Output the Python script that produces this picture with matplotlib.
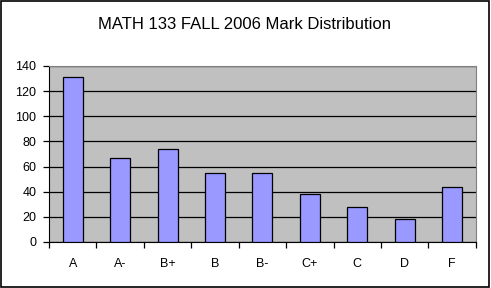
import numpy as np
import matplotlib
matplotlib.use("Agg")
from matplotlib import pyplot as plt
from matplotlib.ticker import FixedLocator

# data
grades = ['A', 'A-', 'B+', 'B', 'B-', 'C+', 'C', 'D', 'F']
counts = [131, 67, 74, 55, 55, 38, 28, 18, 44]

plt.rcParams['font.family'] = ['Liberation Sans', 'DejaVu Sans']

fig = plt.figure(figsize=(4.91, 2.88), dpi=100)
# figure frame
fig.patches.append(plt.Rectangle((0.002, 0.003), 0.994, 0.994, transform=fig.transFigure,
                                 fill=False, edgecolor='black', linewidth=1.2))

ax = fig.add_axes([0.0998, 0.160, 0.8692, 0.611])
ax.set_facecolor('#C0C0C0')

x = np.arange(len(grades))
ax.bar(x, counts, width=0.42, color='#9999FF', edgecolor='black', linewidth=0.9, zorder=3)

ax.set_xlim(-0.5, len(grades) - 0.5)
ax.set_ylim(0, 140)
ax.set_yticks(np.arange(0, 141, 20))
ax.yaxis.grid(True, color='black', linewidth=0.9, zorder=1)
ax.set_axisbelow(True)

ax.set_xticks(x)
ax.set_xticklabels(grades)
ax.xaxis.set_minor_locator(FixedLocator(np.arange(-0.5, len(grades), 1)))
ax.tick_params(axis='x', which='major', length=0, pad=11.5, labelsize=9)
ax.tick_params(axis='x', which='minor', length=4, width=0.9, direction='out')
ax.tick_params(axis='y', length=4, width=0.9, labelsize=9, pad=5)

for s in ['top', 'right']:
    ax.spines[s].set_color('#808080')
for s in ['left', 'bottom']:
    ax.spines[s].set_color('black')

fig.text(0.497, 0.915, 'MATH 133 FALL 2006 Mark Distribution', ha='center', va='center',
         fontsize=12)

fig.savefig('out.png', dpi=100)
